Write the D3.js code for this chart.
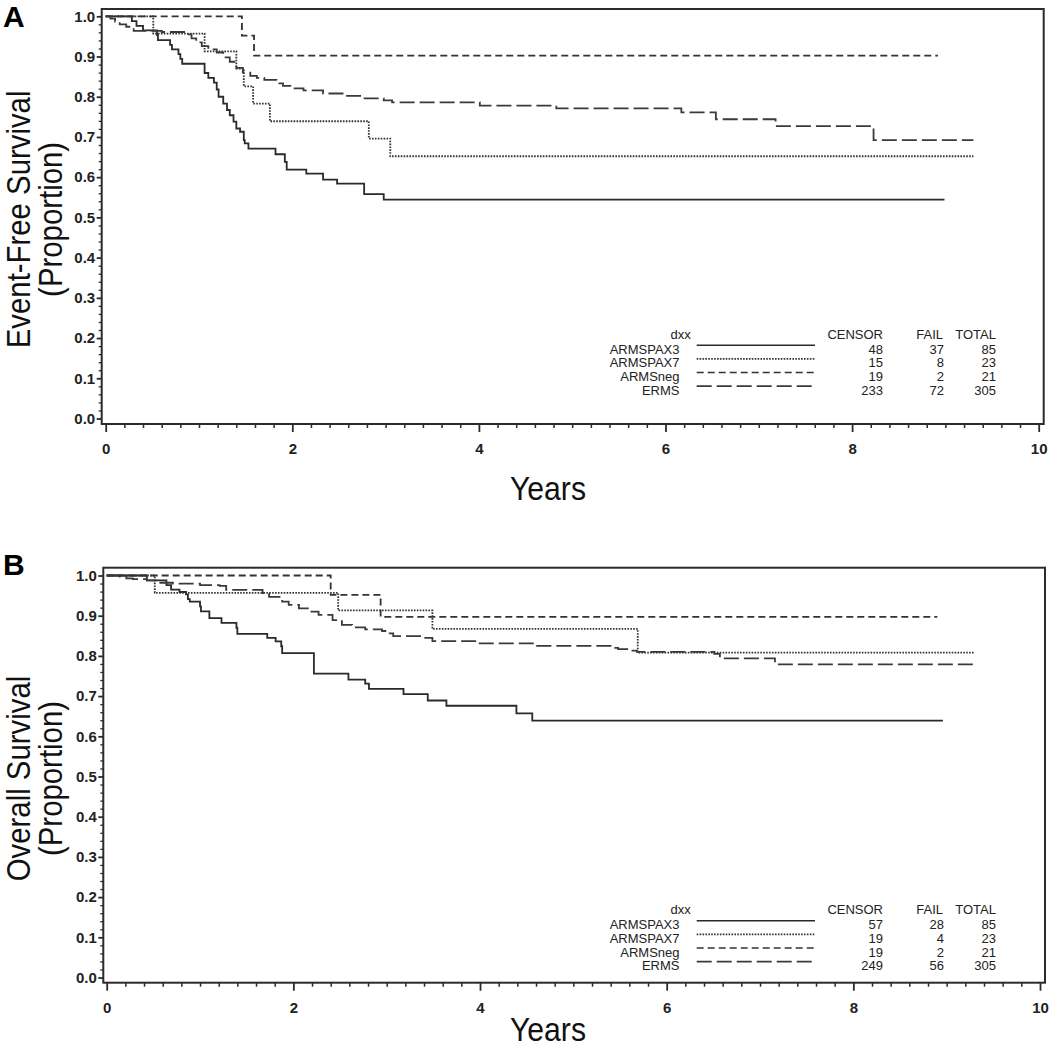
<!DOCTYPE html>
<html><head><meta charset="utf-8">
<script src="https://cdn.jsdelivr.net/npm/d3@7"></script>
<style>body{margin:0;background:#fff;} svg{display:block;}</style>
</head><body>
<svg id="chart" width="1050" height="1049"></svg>
<script>
// ---------------- DATA ----------------
const groups = ["ARMSPAX3", "ARMSPAX7", "ARMSneg", "ERMS"];
const xTickLabels = [0, 2, 4, 6, 8, 10];
const yTickLabels = [0.0, 0.1, 0.2, 0.3, 0.4, 0.5, 0.6, 0.7, 0.8, 0.9, 1.0];

// Panel A: Event-free survival, steps [years, proportion after event]
const efsARMSPAX3 = [[0.28,0.988],[0.33,0.976],[0.40,0.965],[0.55,0.953],[0.56,0.941],[0.69,0.929],[0.71,0.918],[0.78,0.906],[0.80,0.894],[0.82,0.882],[1.06,0.859],[1.10,0.847],[1.16,0.835],[1.19,0.818],[1.21,0.800],[1.26,0.783],[1.30,0.767],[1.33,0.754],[1.37,0.738],[1.40,0.721],[1.44,0.713],[1.48,0.692],[1.49,0.684],[1.53,0.671],[1.82,0.657],[1.92,0.638],[1.94,0.619],[2.15,0.609],[2.33,0.594],[2.48,0.584],[2.77,0.558],[2.98,0.544]];
const efsARMSPAX7 = [[0.51,0.957],[1.06,0.913],[1.40,0.870],[1.48,0.826],[1.58,0.783],[1.76,0.739],[2.82,0.696],[3.05,0.652]];
const efsARMSneg = [[1.46,0.952],[1.59,0.902]];
const efsERMS = [[0.05,0.994],[0.10,0.987],[0.15,0.980],[0.22,0.974],[0.30,0.964],[0.60,0.961],[0.87,0.955],[0.92,0.945],[0.97,0.935],[1.03,0.926],[1.10,0.918],[1.19,0.910],[1.26,0.898],[1.33,0.887],[1.40,0.872],[1.47,0.860],[1.55,0.852],[1.62,0.847],[1.70,0.842],[1.83,0.833],[1.90,0.827],[1.98,0.821],[2.12,0.816],[2.33,0.808],[2.55,0.802],[2.76,0.796],[2.98,0.791],[3.07,0.786],[4.01,0.778],[4.83,0.771],[6.17,0.761],[6.54,0.744],[7.18,0.727],[8.23,0.692]];
const efsLastFollowUp = [8.99, 9.3, 8.92, 9.3];
const efsCensor = [48, 15, 19, 233];
const efsFail = [37, 8, 2, 72];
const efsTotal = [85, 23, 21, 305];

// Panel B: Overall survival
const osARMSPAX3 = [[0.43,0.988],[0.64,0.976],[0.69,0.965],[0.78,0.959],[0.85,0.953],[0.87,0.941],[0.89,0.935],[1.00,0.923],[1.01,0.911],[1.10,0.894],[1.23,0.882],[1.39,0.870],[1.40,0.855],[1.72,0.845],[1.81,0.836],[1.87,0.824],[1.88,0.807],[2.22,0.756],[2.59,0.741],[2.77,0.731],[2.81,0.718],[3.18,0.705],[3.44,0.689],[3.64,0.676],[4.39,0.657],[4.56,0.639]];
const osARMSPAX7 = [[0.515,0.957],[2.48,0.913],[3.49,0.867],[5.69,0.808]];
const osARMSneg = [[2.40,0.952],[2.935,0.897]];
const osERMS = [[0.14,0.997],[0.21,0.993],[0.28,0.991],[0.43,0.988],[0.53,0.982],[0.71,0.980],[1.00,0.976],[1.21,0.974],[1.28,0.964],[1.67,0.956],[1.74,0.947],[1.88,0.935],[1.95,0.927],[2.06,0.918],[2.17,0.910],[2.27,0.902],[2.42,0.889],[2.52,0.877],[2.63,0.871],[2.77,0.866],[2.95,0.862],[3.02,0.856],[3.07,0.849],[3.39,0.845],[3.49,0.837],[3.98,0.831],[4.61,0.825],[5.40,0.820],[5.48,0.817],[5.60,0.813],[5.68,0.810],[6.51,0.805],[6.57,0.794],[7.16,0.779]];
const osLastFollowUp = [8.96, 9.3, 8.9, 9.3];
const osCensor = [57, 19, 19, 249];
const osFail = [28, 4, 2, 56];
const osTotal = [85, 23, 21, 305];

// ---------------- LAYOUT / STYLE ----------------
const FONT = "'Liberation Sans', Arial, Helvetica, sans-serif";
const INK = "#2b2b2b";
const dashStyles = [null, "1.6,1.3", "7,4", "15,5"];
const strokeCols = ["#2a2a2a", "#333", "#333", "#3a3a3a"];

const panels = [
  { letter: "A", title: "Event-Free Survival", letterY: 27,
    frameLeft: 101.7, frameTop: 9, frameBottom: 424,
    x0: 105.7, x10: 1038.7, y0: 418.5, y1: 16.3, yearsY: 500,
    curves: [efsARMSPAX3, efsARMSPAX7, efsARMSneg, efsERMS], ends: efsLastFollowUp,
    censor: efsCensor, fail: efsFail, total: efsTotal, legendTop: 334 },
  { letter: "B", title: "Overall Survival", letterY: 575,
    frameLeft: 103.3, frameTop: 567.7, frameBottom: 982.7,
    x0: 106.7, x10: 1040, y0: 977.5, y1: 575.5, yearsY: 1041,
    curves: [osARMSPAX3, osARMSPAX7, osARMSneg, osERMS], ends: osLastFollowUp,
    censor: osCensor, fail: osFail, total: osTotal, legendTop: 909.5 }
];

const svg = d3.select("#chart");
svg.append("rect").attr("width", 1050).attr("height", 1049).attr("fill", "#fff");

panels.forEach(p => {
  const g = svg.append("g");
  const x = d3.scaleLinear().domain([0, 10]).range([p.x0, p.x10]);
  const y = d3.scaleLinear().domain([0, 1]).range([p.y0, p.y1]);
  const frameRight = p.x10 + 5;

  // minor ticks
  const xMinor = d3.range(0, 51).map(i => i / 5).filter(v => !xTickLabels.includes(v));
  const yMinor = d3.range(0, 51).map(i => i / 50).filter((v, i) => i % 5 !== 0);

  g.append("g").attr("transform", `translate(0,${p.frameBottom})`)
    .call(d3.axisBottom(x).tickValues(xMinor).tickSize(4).tickFormat(""))
    .call(a => a.select(".domain").remove())
    .call(a => a.selectAll("line").attr("stroke", INK).attr("stroke-width", 1.5));
  g.append("g").attr("transform", `translate(${p.frameLeft},0)`)
    .call(d3.axisLeft(y).tickValues(yMinor).tickSize(3).tickFormat(""))
    .call(a => a.select(".domain").remove())
    .call(a => a.selectAll("line").attr("stroke", INK).attr("stroke-width", 1.3));

  // major ticks + labels
  g.append("g").attr("transform", `translate(0,${p.frameBottom})`)
    .call(d3.axisBottom(x).tickValues(xTickLabels).tickSize(8).tickPadding(11.5).tickFormat(d3.format("d")))
    .call(a => a.select(".domain").remove())
    .call(a => a.selectAll("line").attr("stroke", INK).attr("stroke-width", 1.8))
    .call(a => a.selectAll("text").attr("fill", "#222").attr("font-size", 15)
      .attr("font-weight", "bold").attr("font-family", FONT));
  g.append("g").attr("transform", `translate(${p.frameLeft},0)`)
    .call(d3.axisLeft(y).tickValues(yTickLabels).tickSize(5).tickPadding(1.5).tickFormat(d3.format(".1f")))
    .call(a => a.select(".domain").remove())
    .call(a => a.selectAll("line").attr("stroke", INK).attr("stroke-width", 1.8))
    .call(a => a.selectAll("text").attr("fill", "#222").attr("font-size", 15)
      .attr("font-weight", "bold").attr("font-family", FONT));

  // frame
  g.append("rect").attr("x", p.frameLeft).attr("y", p.frameTop)
    .attr("width", frameRight - p.frameLeft).attr("height", p.frameBottom - p.frameTop)
    .attr("fill", "none").attr("stroke", INK).attr("stroke-width", 2);

  // curves
  const line = d3.line().x(d => x(d[0])).y(d => y(d[1])).curve(d3.curveStepAfter);
  p.curves.forEach((steps, i) => {
    const pts = [[0, 1]].concat(steps, [[p.ends[i], steps[steps.length - 1][1]]]);
    g.append("path").datum(pts).attr("d", line)
      .attr("fill", "none").attr("stroke", strokeCols[i]).attr("stroke-width", 1.8)
      .attr("stroke-dasharray", dashStyles[i]);
  });

  // legend table
  const lt = p.legendTop;
  const rowY = i => lt + 15.3 + i * 13.6;
  const txt = (xx, yy, s, anchor) => g.append("text").attr("x", xx).attr("y", yy)
    .attr("dy", "0.35em").attr("text-anchor", anchor || "end")
    .attr("font-family", FONT).attr("font-size", 13).attr("fill", "#222").text(s);
  txt(690.7, lt, "dxx");
  txt(883, lt, "CENSOR");
  txt(943, lt, "FAIL");
  txt(996, lt, "TOTAL");
  groups.forEach((gname, i) => {
    const yy = rowY(i);
    txt(679.5, yy, gname);
    g.append("line").attr("x1", 696.7).attr("x2", 815).attr("y1", yy - 4).attr("y2", yy - 4)
      .attr("stroke", strokeCols[i]).attr("stroke-width", 1.6).attr("stroke-dasharray", dashStyles[i]);
    txt(883, yy, p.censor[i]);
    txt(944, yy, p.fail[i]);
    txt(996, yy, p.total[i]);
  });

  // axis titles
  const cy = (p.y0 + p.y1) / 2 + 2;
  g.append("text").attr("transform", `translate(30,${cy}) rotate(-90) scale(0.89,1)`)
    .attr("text-anchor", "middle").attr("font-family", FONT).attr("font-size", 33)
    .attr("fill", "#111").text(p.title);
  g.append("text").attr("transform", `translate(62,${cy}) rotate(-90) scale(0.89,1)`)
    .attr("text-anchor", "middle").attr("font-family", FONT).attr("font-size", 33)
    .attr("fill", "#111").text("(Proportion)");
  g.append("text").attr("transform", `translate(548,${p.yearsY}) scale(0.9,1)`)
    .attr("text-anchor", "middle").attr("font-family", FONT).attr("font-size", 33.5)
    .attr("fill", "#111").text("Years");

  // panel letter
  g.append("text").attr("x", 3).attr("y", p.letterY).attr("font-family", FONT)
    .attr("font-size", 30).attr("font-weight", "bold").attr("fill", "#000").text(p.letter);
});
</script>
</body></html>
